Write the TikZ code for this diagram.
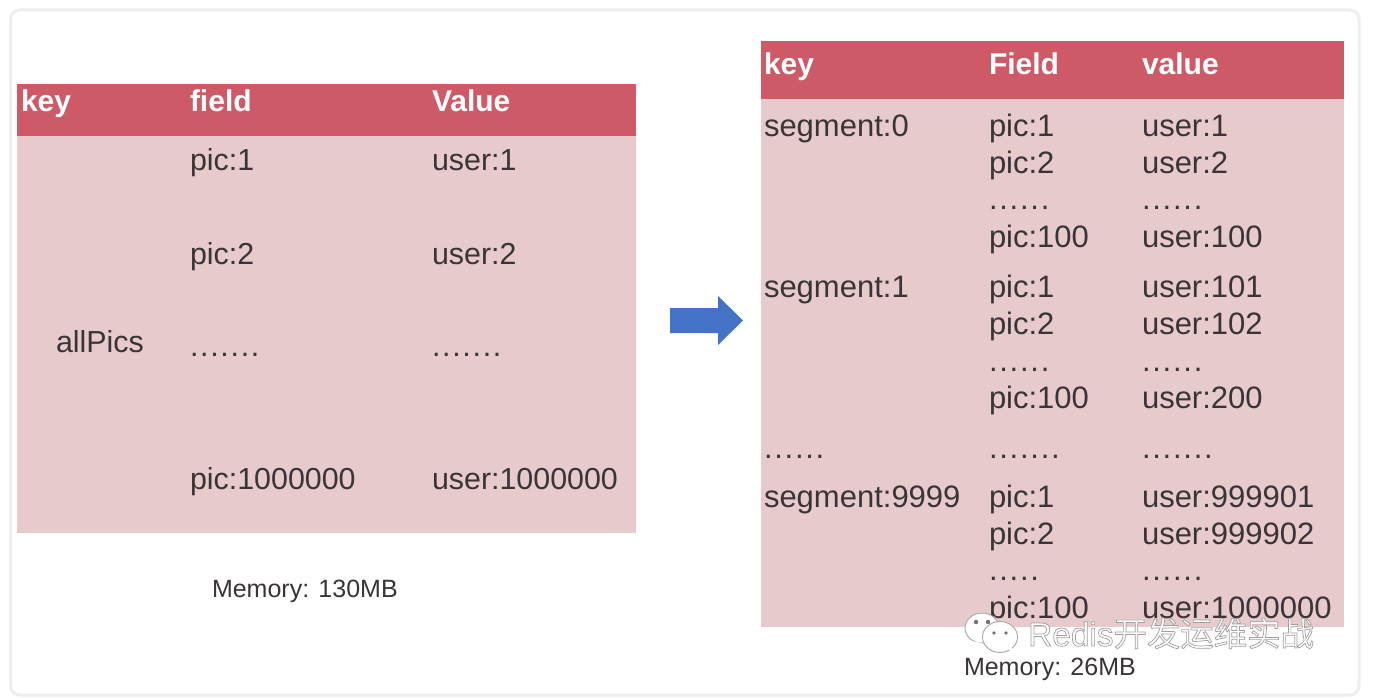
\documentclass[tikz,border=0pt]{standalone}
\usepackage{fontspec}
\setmainfont{Liberation Sans}
\newfontfamily\cjkfont{Noto Sans CJK SC}
\definecolor{head}{HTML}{CE5A68}
\definecolor{body}{HTML}{E7CBCC}
\definecolor{ink}{HTML}{3A3436}
\definecolor{frameline}{HTML}{EEEEEE}
\definecolor{arrowblue}{HTML}{4472C4}
\newcommand{\spaced}[1]{{\addfontfeature{LetterSpace=5.6}#1}}
\tikzset{
  cell/.style={anchor=base west,inner sep=0pt,outer sep=0pt,text=ink,font=\fontsize{30.4}{36}\selectfont},
  rcell/.style={anchor=base west,inner sep=0pt,outer sep=0pt,text=ink,font=\fontsize{31}{36}\selectfont},
  headcell/.style={anchor=base west,inner sep=0pt,outer sep=0pt,text=white,font=\fontsize{30}{36}\selectfont\bfseries},
  memo/.style={anchor=base west,inner sep=0pt,outer sep=0pt,text=ink,font=\fontsize{25}{30}\selectfont},
  band/.style={fill=head,draw=none},
  panel/.style={fill=body,draw=none},
}
\begin{document}
\begin{tikzpicture}[x=1pt,y=-1pt]
\useasboundingbox (0,0) rectangle (1392,698);
\fill[white] (0,0) rectangle (1392,698);
\draw[frameline,line width=3pt,rounded corners=9pt,fill=white] (10.5,10) rectangle (1359,695);
% left table
\fill[panel] (17,136) rectangle (636,533);
\fill[band] (17,84) rectangle (636,136);
\node[headcell] (lk) at (21,112) {key};
\node[headcell] (lf) at (190,112) {field};
\node[headcell] (lv) at (432,112) {Value};
\node[cell] (l1a) at (190,171) {pic:1};
\node[cell] (l1b) at (432,171) {user:1};
\node[cell] (l2a) at (190,264) {pic:2};
\node[cell] (l2b) at (432,264) {user:2};
\node[cell] (l3a) at (190,356) {\spaced{.......}};
\node[cell] (l3b) at (432,356) {\spaced{.......}};
\node[cell] (lkey) at (56,352) {allPics};
\node[cell] (l4a) at (190,489) {pic:1000000};
\node[cell] (l4b) at (432,489) {user:1000000};
\node[memo] (lm) at (212,597) {Memory: 130MB};
% arrow
\fill[arrowblue] (670,308) -- (718,308) -- (718,296) -- (743,320.5) -- (718,345) -- (718,333) -- (670,333) -- cycle;
% right table
\fill[panel] (761,99) rectangle (1344,627);
\fill[band] (761,41) rectangle (1344,99);
\node[headcell] (rk) at (764,75) {key};
\node[headcell] (rf) at (989,75) {Field};
\node[headcell] (rv) at (1142,75) {value};
\node[rcell] (a0) at (764,136) {segment:0};
\node[rcell] (a1) at (989,136) {pic:1};
\node[rcell] (a2) at (1142,136) {user:1};
\node[rcell] (a3) at (989,173) {pic:2};
\node[rcell] (a4) at (1142,173) {user:2};
\node[rcell] (a5) at (989,209) {\spaced{......}};
\node[rcell] (a6) at (1142,209) {\spaced{......}};
\node[rcell] (a7) at (989,247) {pic:100};
\node[rcell] (a8) at (1142,247) {user:100};
\node[rcell] (b0) at (764,297) {segment:1};
\node[rcell] (b1) at (989,297) {pic:1};
\node[rcell] (b2) at (1142,297) {user:101};
\node[rcell] (b3) at (989,334) {pic:2};
\node[rcell] (b4) at (1142,334) {user:102};
\node[rcell] (b5) at (989,371) {\spaced{......}};
\node[rcell] (b6) at (1142,371) {\spaced{......}};
\node[rcell] (b7) at (989,408) {pic:100};
\node[rcell] (b8) at (1142,408) {user:200};
\node[rcell] (c0) at (764,458) {\spaced{......}};
\node[rcell] (c1) at (989,458) {\spaced{.......}};
\node[rcell] (c2) at (1142,458) {\spaced{.......}};
\node[rcell] (d0) at (764,507) {segment:9999};
\node[rcell] (d1) at (989,507) {pic:1};
\node[rcell] (d2) at (1142,507) {user:999901};
\node[rcell] (d3) at (989,544) {pic:2};
\node[rcell] (d4) at (1142,544) {user:999902};
\node[rcell] (d5) at (989,580) {\spaced{.....}};
\node[rcell] (d6) at (1142,580) {\spaced{......}};
\node[rcell] (d7) at (989,618) {pic:100};
\node[rcell] (d8) at (1142,618) {user:1000000};
\node[memo] (rm) at (964,675) {Memory: 26MB};
% watermark
\begin{scope}[draw=black!35,fill=white,line width=0.9pt]
\filldraw (982,628) ellipse (17 and 15);
\fill (972,641) -- (970,651) -- (982,643) -- cycle;
\filldraw (1000,637) ellipse (17.5 and 15.5);
\fill (1009,650) -- (1014,654) -- (1011,646) -- cycle;
\fill[black!55] (976,622) circle (2.2) (988,622) circle (2.2) (994,633) circle (1.8) (1006,633) circle (1.8);
\end{scope}
\node[anchor=base west,inner sep=0pt,text=white,font=\fontsize{33.4}{36}\selectfont] (wm) at (1028,646) {\special{pdf:code 2 Tr 0.62 G 0.7 w}Redis{\cjkfont 开发运维实战}\special{pdf:code 0 Tr 0 G 1 w}};
\end{tikzpicture}
\end{document}
